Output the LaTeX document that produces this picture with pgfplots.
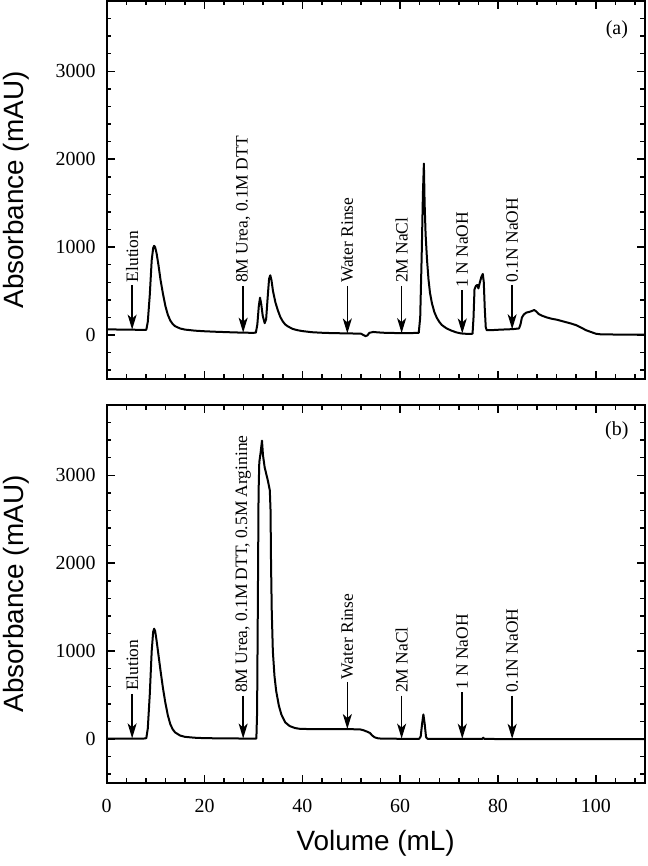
\documentclass[border=0pt]{standalone}
\usepackage{pgfplots}
\pgfplotsset{compat=1.18}
\usepackage{fontspec}
\setmainfont{Liberation Serif}
\newfontfamily\labelfont{Liberation Sans}
\usetikzlibrary{arrows.meta}
\tikzset{
  arr/.style={-{Stealth[length=15bp,width=9bp,inset=4bp]}, line width=1.6bp},
  ann/.style={rotate=90, anchor=west, inner sep=0pt, font=\fontsize{17.5}{20}\selectfont},
}
\pgfplotsset{
  chromstyle/.style={
    scale only axis, width=538bp, height=378bp,
    xmin=0, xmax=110, ymin=-500, ymax=3800,
    xtick={0,20,...,100}, minor xtick={4,8,...,108},
    ytick={0,1000,2000,3000}, minor ytick={-400,-200,...,3600},
    tick align=inside, xtick pos=both, ytick pos=both,
    major tick length=8bp, minor tick length=4.5bp,
    axis line style={line width=1.6bp},
    major tick style={line width=1.5bp, black},
    minor tick style={line width=1.5bp, black},
    tick label style={font=\fontsize{20}{24}\selectfont},
    /pgf/number format/assume math mode=true,
    /pgf/number format/1000 sep={},
    scaled ticks=false,
    yticklabel style={inner sep=0pt, xshift=-11bp},
    xticklabel style={inner sep=0pt, yshift=-16bp},
    ylabel={Absorbance (mAU)},
    ylabel style={font=\labelfont\fontsize{28}{32}\selectfont, at={(axis description cs:-0.1928,0.5)}, anchor=north, inner sep=0pt},
  },
  curve/.style={black, line width=2bp, mark=none, line join=round},
}
\begin{document}
\begin{tikzpicture}
\useasboundingbox (0,0) rectangle (648bp,866bp);
% ---------------- Panel (a) ----------------
\begin{axis}[chromstyle, at={(106.7bp,487bp)}, anchor=south west, xticklabels={}]
\addplot[curve] coordinates {
(0,65) (2,63) (4,62) (6,60) (7.5,58) (8.1,60) (8.4,150) (8.8,450) (9.2,850) (9.5,990) (9.7,1015) (9.9,1000)
(10.2,930) (10.6,790) (11.0,630) (11.5,470) (12.0,330) (12.5,230) (13.0,165) (13.5,125) (14.0,100) (15.0,75)
(16.0,62) (18.0,50) (20.0,43) (22.0,38) (24.0,34) (26.0,30) (28.0,27) (30.0,25) (30.5,28) (30.8,120) (31.1,330)
(31.35,425) (31.6,350) (31.9,220) (32.3,135) (32.6,180) (32.9,420) (33.2,640) (33.45,680) (33.7,620) (34.0,500)
(34.5,370) (35.0,280) (35.5,205) (36.0,155) (36.5,120) (37.0,100) (38.0,70) (39.0,55) (40.0,45) (42.0,32)
(44.0,26) (46.0,22) (48.0,20) (50.0,18) (52.0,15) (52.5,0) (52.9,-12) (53.3,-5) (53.7,25) (54.5,35) (55.5,30)
(57,25) (60,22) (62,22) (63.8,25) (64.1,200) (64.4,900) (64.65,1600) (64.85,1950) (65.0,1500) (65.2,1150)
(65.5,850) (65.8,630) (66.1,480) (66.5,360) (67.0,260) (67.5,195) (68.0,150) (68.5,115) (69.5,75) (70.5,50)
(71.5,30) (72.5,18) (74.0,12) (74.8,15) (75.0,200) (75.2,520) (75.5,560) (75.8,570) (76.0,530) (76.3,600)
(76.6,660) (76.9,695) (77.1,600) (77.3,300) (77.5,90) (77.7,55) (78.5,55) (80,60) (82,65) (83,67) (84.3,75)
(84.6,120) (84.9,200) (85.3,235) (85.8,255) (86.5,265) (87.0,275) (87.4,285) (87.8,270) (88.3,240) (89,220)
(90,200) (91,185) (92,175) (93,160) (94,145) (95,130) (96,112) (97,85) (98,55) (99,35) (100,15) (101,8)
(105,5) (110,5)
};
\draw[arr] (axis cs:5.2,570) -- (axis cs:5.2,62);
\node[ann] at (axis cs:5.2,600) {Elution};
\draw[arr] (axis cs:27.9,560) -- (axis cs:27.9,27);
\node[ann] at (axis cs:27.9,590) {8M Urea, 0.1M DTT};
\draw[arr] (axis cs:49.2,560) -- (axis cs:49.2,18);
\node[ann] at (axis cs:49.2,590) {Water Rinse};
\draw[arr] (axis cs:60.3,560) -- (axis cs:60.3,22);
\node[ann] at (axis cs:60.3,590) {2M NaCl};
\draw[arr] (axis cs:72.7,510) -- (axis cs:72.7,18);
\node[ann] at (axis cs:72.7,540) {1 N NaOH};
\draw[arr] (axis cs:82.9,570) -- (axis cs:82.9,66);
\node[ann] at (axis cs:82.9,600) {0.1N NaOH};
\node[font=\fontsize{20}{24}\selectfont] at (axis cs:104.3,3474) {(a)};
\end{axis}
% ---------------- Panel (b) ----------------
\begin{axis}[chromstyle, at={(106.7bp,83bp)}, anchor=south west,
  xlabel={Volume (mL)},
  xlabel style={font=\labelfont\fontsize{28}{32}\selectfont, at={(axis description cs:0.5,-0.1243)}, anchor=north, inner sep=0pt}]
\addplot[curve] coordinates {
(0,5) (4,5) (7.5,5) (8.1,10) (8.4,120) (8.8,500) (9.2,1000) (9.5,1220) (9.7,1255) (9.9,1230) (10.2,1120)
(10.6,950) (11.0,780) (11.5,580) (12.0,410) (12.5,270) (13.0,170) (13.5,110) (14.0,75) (15.0,40) (16.0,25)
(18.0,15) (20,10) (25,7) (30,5) (30.6,5) (30.75,300) (30.9,1500) (31.05,2800) (31.2,3150) (31.45,3250)
(31.75,3395) (31.95,3230) (32.3,3090) (32.95,2940) (33.35,2830) (33.5,2600) (33.6,2000) (33.75,1450)
(33.97,1000) (34.3,720) (34.65,547) (35.2,380) (35.7,281) (36.5,190) (37.4,148) (38.5,125) (39.4,117)
(42,112) (46,112) (50,112) (51.8,110) (52.5,100) (53.2,85) (53.8,70) (54.3,40) (54.8,19) (55.5,8) (56.2,5)
(60,3) (63.9,3) (64.2,30) (64.5,180) (64.75,280) (65.0,180) (65.3,20) (65.6,3) (70,2) (76.8,2) (77.0,15)
(77.2,2) (80,0) (110,0)
};
\draw[arr] (axis cs:5.2,515) -- (axis cs:5.2,8);
\node[ann] at (axis cs:5.2,545) {Elution};
\draw[arr] (axis cs:27.9,493) -- (axis cs:27.9,6);
\node[ann] at (axis cs:27.9,523) {8M Urea, 0.1M DTT, 0.5M Arginine};
\draw[arr] (axis cs:49.2,650) -- (axis cs:49.2,114);
\node[ann] at (axis cs:49.2,680) {Water Rinse};
\draw[arr] (axis cs:60.3,493) -- (axis cs:60.3,5);
\node[ann] at (axis cs:60.3,523) {2M NaCl};
\draw[arr] (axis cs:72.7,530) -- (axis cs:72.7,3);
\node[ann] at (axis cs:72.7,560) {1 N NaOH};
\draw[arr] (axis cs:82.9,493) -- (axis cs:82.9,2);
\node[ann] at (axis cs:82.9,523) {0.1N NaOH};
\node[font=\fontsize{20}{24}\selectfont] at (axis cs:104.3,3508) {(b)};
\end{axis}
\end{tikzpicture}
\end{document}
